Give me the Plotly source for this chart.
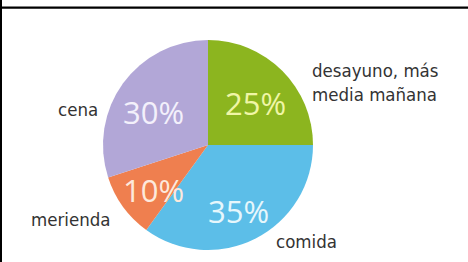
import math
import plotly.graph_objects as go

labels = ["desayuno, más media mañana", "comida", "merienda", "cena"]
values = [25, 35, 10, 30]
colors = ["#8cb51f", "#5cbee8", "#ef7f4f", "#b2a7d7"]
text_colors = ["#f0f6a6", "#e6f7fc", "#fde9dc", "#f3f0fb"]
outside_labels = ["desayuno, más<br>media mañana", "comida", "merienda", "cena"]

W, H = 468, 262
# pie geometry (pixels)
CX, CY, R = 208, 145, 105

fig = go.Figure()
fig.add_trace(go.Pie(
    labels=labels, values=values, sort=False, direction="clockwise", rotation=0,
    marker=dict(colors=colors, line=dict(width=0)),
    textinfo="none",
    domain=dict(x=[(CX-R)/W, (CX+R)/W], y=[1-(CY+R)/H, 1-(CY-R)/H]),
    showlegend=False, hoverinfo="label+percent",
))

# percentage labels placed on each slice's bisector (derived from values)
total = sum(values)
cum = 0
for v, tc in zip(values, text_colors):
    mid = (cum + v / 2) / total * 2 * math.pi
    cum += v
    px = CX + 0.64 * R * math.sin(mid)
    py = CY - 0.64 * R * math.cos(mid)
    fig.add_annotation(x=px/W, y=1-py/H, xref="paper", yref="paper",
                       text=f"{round(v/total*100)}%", showarrow=False,
                       xanchor="center", yanchor="middle", yshift=-6,
                       font=dict(family="Open Sans", size=31, color=tc))

# outside label annotations (pixel positions -> paper)
ann_pos = [(310, 83, "left"), (306, 241, "center"), (112, 219, "right"), (100, 110, "right")]
for txt, (x, y, anc) in zip(outside_labels, ann_pos):
    fig.add_annotation(x=x/W, y=1-y/H, xref="paper", yref="paper", text=txt,
                       showarrow=False, xanchor=anc, yanchor="middle", align="left",
                       font=dict(family="Liberation Sans Narrow, DejaVu Sans Condensed, sans-serif",
                                 size=18.5, color="#333333"))

fig.update_layout(
    width=W, height=H, margin=dict(l=0, r=0, t=0, b=0),
    paper_bgcolor="white", plot_bgcolor="white",
    shapes=[
        dict(type="rect", xref="paper", yref="paper", x0=0, x1=1, y0=1-8.7/H, y1=1-6.5/H,
             fillcolor="black", line=dict(width=0)),
        dict(type="rect", xref="paper", yref="paper", x0=0, x1=2/W, y0=0, y1=1,
             fillcolor="black", line=dict(width=0)),
    ],
)
fig.write_html("out.html", config={"displayModeBar": False},
               post_script="document.body.style.margin='0';document.body.style.overflow='hidden';")
